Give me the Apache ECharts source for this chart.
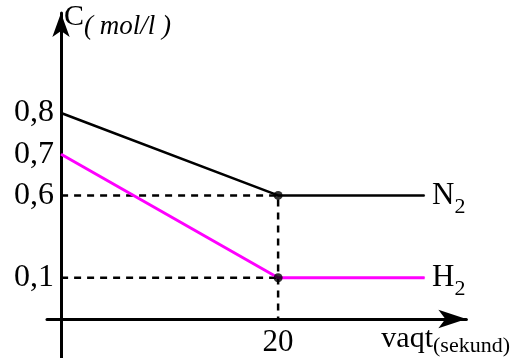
<!DOCTYPE html>
<html>
<head>
<meta charset="utf-8">
<script src="https://cdn.jsdelivr.net/npm/echarts@6/dist/echarts.min.js"></script>
<style>
  html, body { margin: 0; padding: 0; background: #fff; }
  #chart { width: 513px; height: 358px; }
</style>
</head>
<body>
<div id="chart"></div>
<script>
// time points (seconds) and concentrations (mol/l)
const timeSec = [0, 20, 33.5]
const n2Conc = [0.8, 0.6, 0.6]
const h2Conc = [0.7, 0.1, 0.1]
// y axis is drawn schematically: 0,1 .. 0,6 is squeezed into one step
const yCats = ['0', '0,1', '~', '0,6', '0,7', '0,8']
const xTicks = [20]

const font = 'Liberation Serif'
const cat = v => String(v).replace('.', ',')
const pts = (xs, ys) => xs.map((x, i) => [x, cat(ys[i])])

// "N2" / "H2" written after the last point of each line
const lastLabel = (name) => ({
  show: true,
  position: 'right',
  distance: 7,
  formatter: p => (p.dataIndex === timeSec.length - 1 ? '{a|' + name + '}{b|2}' : ''),
  rich: {
    a: { fontFamily: font, fontSize: 31, color: '#000' },
    b: { fontFamily: font, fontSize: 22, color: '#000', padding: [23, 0, 0, 0] }
  }
})

const dashed = { color: '#000', width: 2.5, type: [7, 6] }

const myChart = echarts.init(document.getElementById('chart'))
myChart.setOption({
  animation: false,
  grid: [
    { left: 47, right: 43, top: 113, bottom: 35 },
    { left: 61, width: 1, top: 13, bottom: 0 }
  ],
  xAxis: [
    {
      gridIndex: 0,
      type: 'value',
      min: -1.3,
      max: 37.35,
      splitLine: { show: false },
      axisTick: { show: false },
      axisLine: {
        show: true,
        symbol: ['none', 'arrow'],
        symbolSize: [14, 28],
        lineStyle: { color: '#000', width: 3 }
      },
      axisLabel: {
        customValues: xTicks,
        margin: 8,
        fontFamily: font,
        fontSize: 31,
        color: '#000'
      },
      name: '{a|vaqt}{b|(sekund)}',
      nameLocation: 'end',
      nameGap: -85,
      nameTextStyle: {
        align: 'left',
        verticalAlign: 'top',
        padding: [2, 0, 0, 0],
        rich: {
          a: { fontFamily: font, fontSize: 30, color: '#000' },
          b: { fontFamily: font, fontSize: 22, color: '#000', padding: [14, 0, 0, 0] }
        }
      }
    },
    { gridIndex: 1, type: 'value', min: 0, max: 1, show: false }
  ],
  yAxis: [
    {
      gridIndex: 0,
      type: 'category',
      data: yCats,
      boundaryGap: false,
      axisLine: { show: false },
      axisTick: { show: false },
      splitLine: { show: false },
      axisLabel: {
        interval: 0,
        margin: -7,
        fontFamily: font,
        fontSize: 32,
        color: '#000',
        formatter: v => (v === '0' || v === '~' ? '' : v)
      }
    },
    {
      gridIndex: 1,
      type: 'value',
      min: 0,
      max: 1,
      splitLine: { show: false },
      axisTick: { show: false },
      axisLabel: { show: false },
      axisLine: {
        show: true,
        onZero: false,
        symbol: ['none', 'arrow'],
        symbolSize: [13, 24],
        lineStyle: { color: '#000', width: 3 }
      },
      name: '{a|C}{b|( mol/l )}',
      nameLocation: 'end',
      nameGap: -4,
      nameTextStyle: {
        align: 'left',
        verticalAlign: 'middle',
        padding: [0, 0, 0, 3],
        rich: {
          a: { fontFamily: font, fontSize: 30, color: '#000' },
          b: { fontFamily: font, fontSize: 27, fontStyle: 'italic', color: '#000', padding: [20, 0, 0, 0] }
        }
      }
    }
  ],
  series: [
    {
      type: 'line',
      data: [[0, '0,6'], [20, '0,6'], [20, '0']],
      symbol: 'none',
      lineStyle: dashed,
      z: 1
    },
    {
      type: 'line',
      data: [[0, '0,1'], [20, '0,1']],
      symbol: 'none',
      lineStyle: dashed,
      z: 1
    },
    {
      name: 'N2',
      type: 'line',
      data: pts(timeSec, n2Conc),
      symbol: 'circle',
      symbolSize: 1,
      itemStyle: { color: '#000' },
      lineStyle: { color: '#000', width: 2.5 },
      label: lastLabel('N'),
      z: 2
    },
    {
      name: 'H2',
      type: 'line',
      data: pts(timeSec, h2Conc),
      symbol: 'circle',
      symbolSize: 1,
      itemStyle: { color: '#ff00ff' },
      lineStyle: { color: '#ff00ff', width: 3 },
      label: lastLabel('H'),
      z: 2
    },
    {
      type: 'scatter',
      data: [[timeSec[1], cat(n2Conc[1])], [timeSec[1], cat(h2Conc[1])]],
      symbolSize: 9,
      itemStyle: { color: '#000' },
      z: 3
    }
  ]
})
</script>
</body>
</html>
